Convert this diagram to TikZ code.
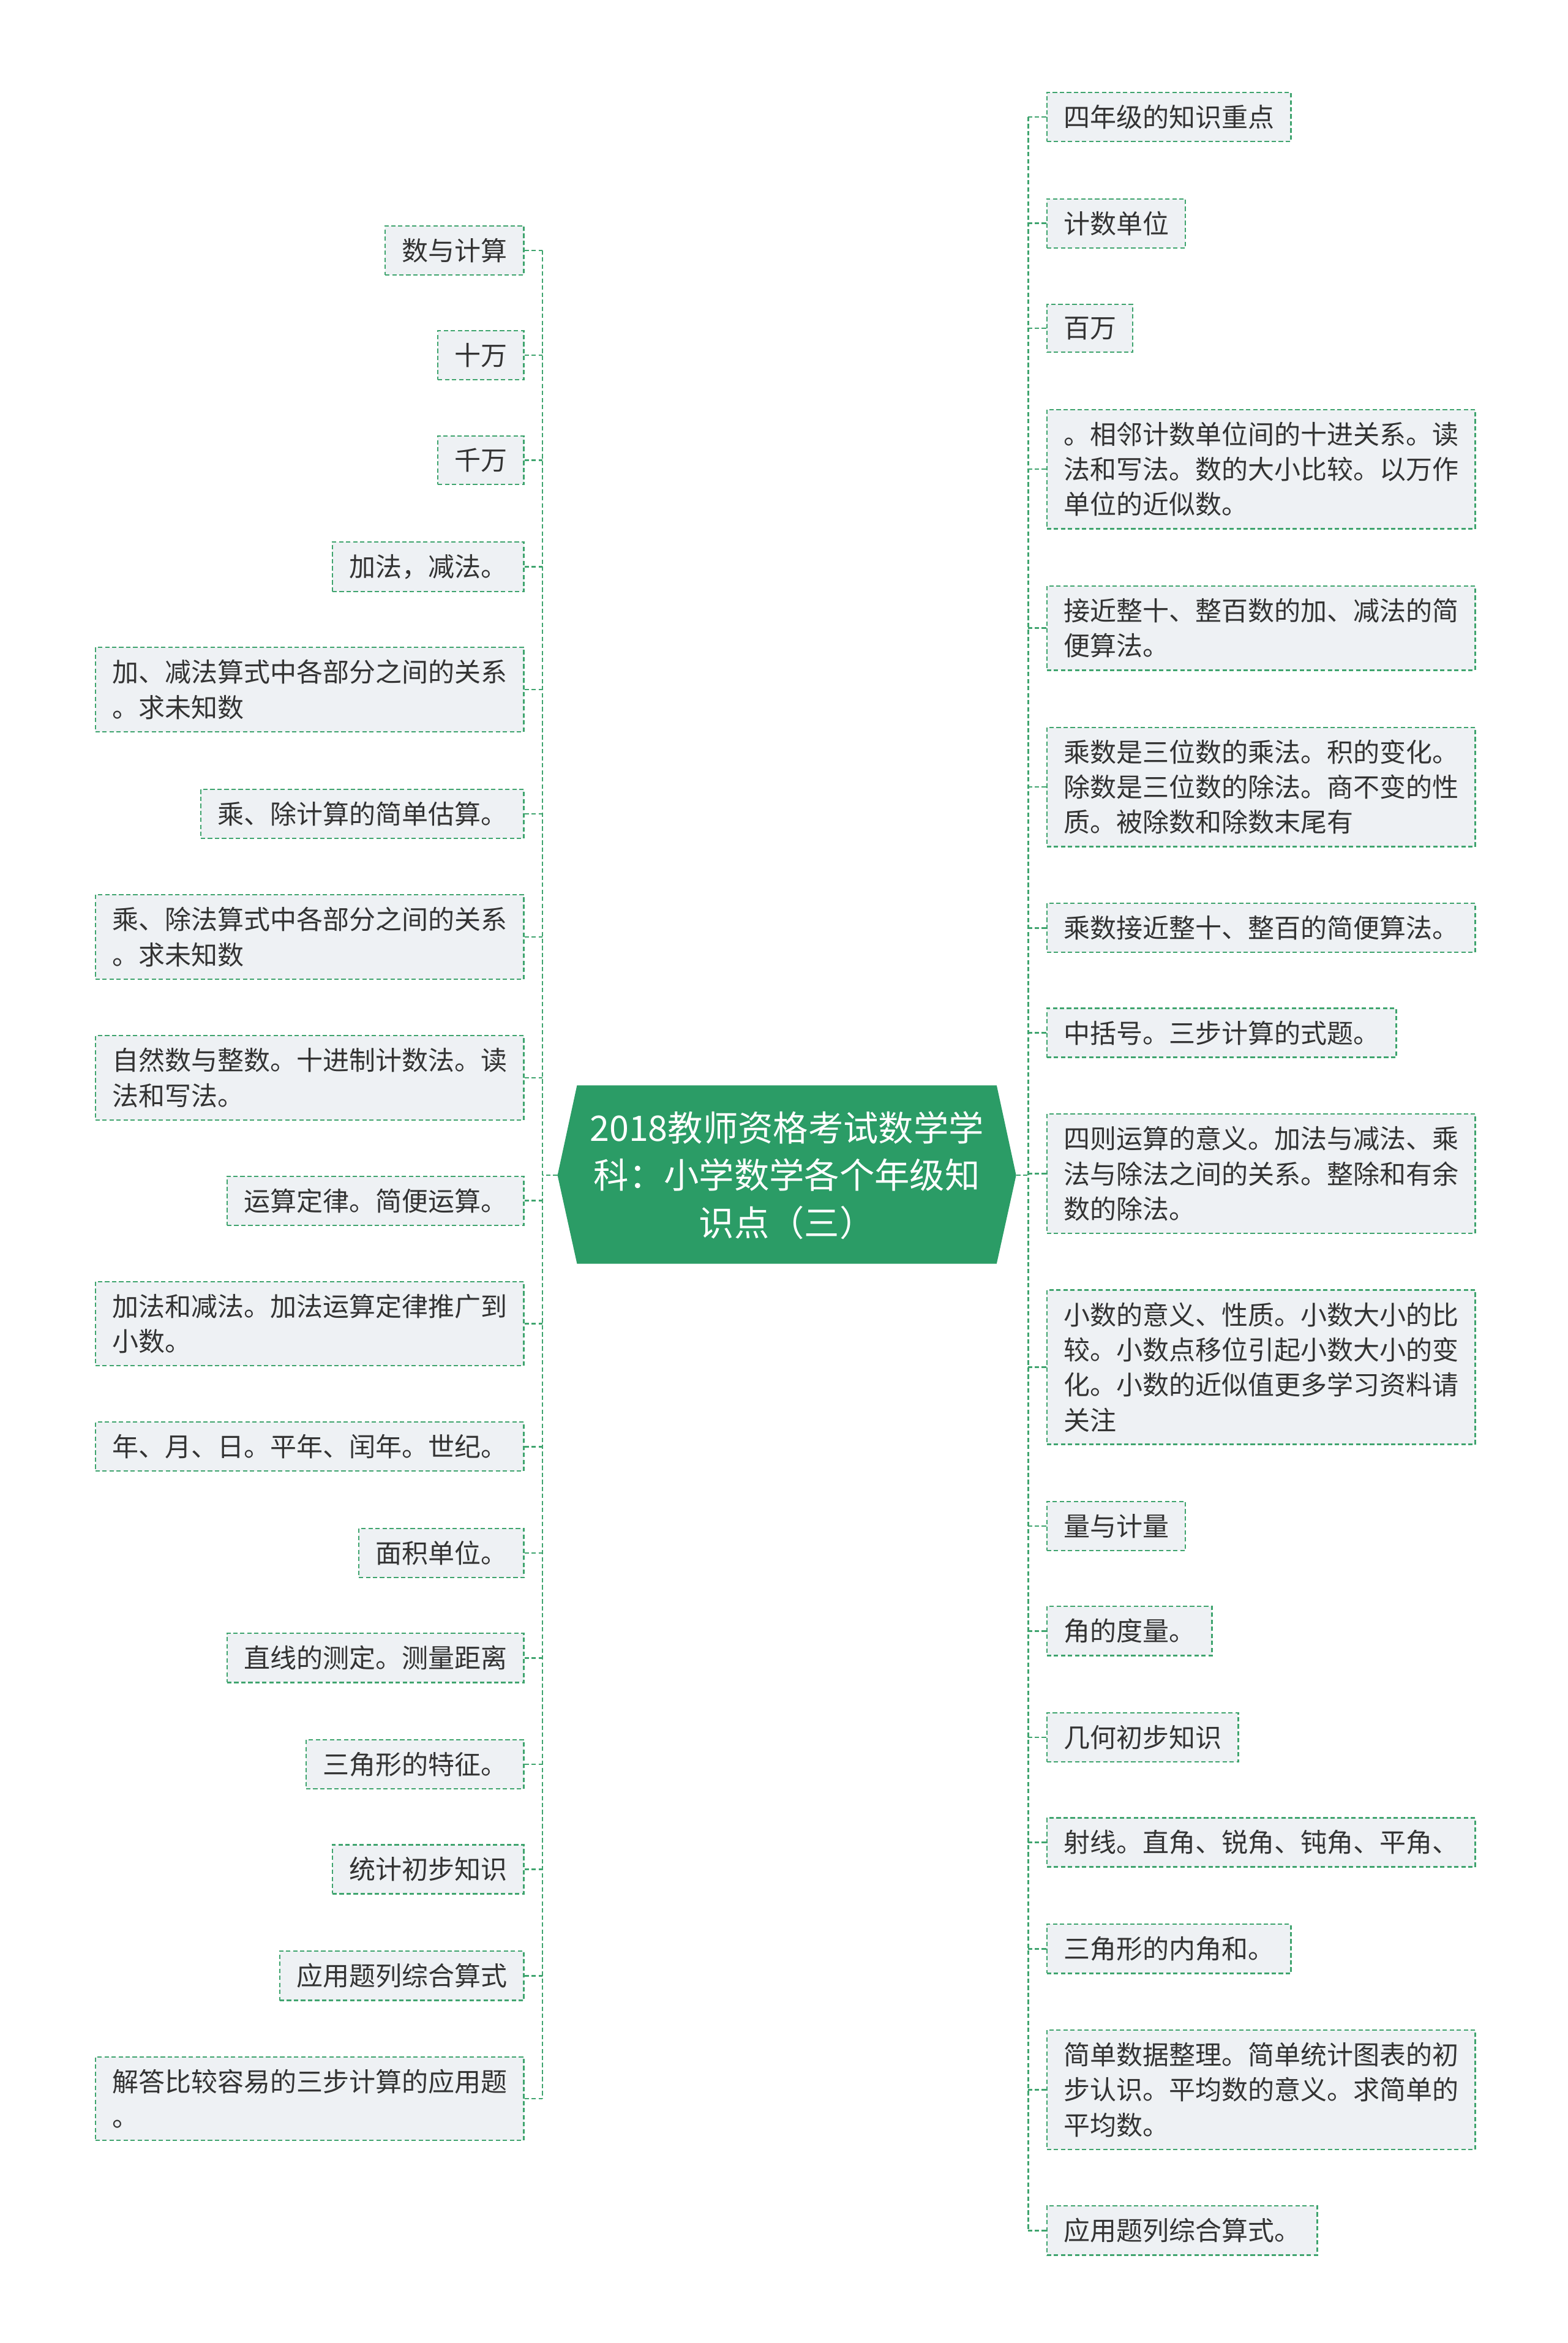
\documentclass[tikz,border=0pt]{standalone}
\usepackage{fontspec}
\setmainfont{Noto Sans CJK SC}
\usetikzlibrary{calc, positioning}
\definecolor{linegreen}{HTML}{3FA46E}
\definecolor{rootgreen}{HTML}{2B9C66}
\definecolor{leafgray}{HTML}{EEF1F4}
\begin{document}
\begin{tikzpicture}[x=0.03cm, y=-0.03cm,
  leaf/.style={draw=linegreen, fill=leafgray, dash pattern=on 2.5pt off 1.5pt, line width=0.8pt,
               inner xsep=9.5pt, inner ysep=7pt, align=left, text=black!80,
               font=\fontsize{15pt}{20pt}\selectfont},
  link/.style={draw=linegreen, dash pattern=on 2.5pt off 1.5pt, line width=0.9pt}]
\useasboundingbox (0,0) rectangle (1046,1563);

% the root
\fill[rootgreen] (385,724) -- (665,724) -- (678,784) -- (665,843) -- (385,843) -- (372,784) -- cycle;
\node[text=white, align=center, font=\fontsize{20pt}{27pt}\selectfont] (root) at (525,784)
  {2018教师资格考试数学学\\科：小学数学各个年级知\\识点（三）};
\coordinate (rootL) at (372,784);
\coordinate (rootR) at (678,784);
\coordinate (busL) at (362,784);
\coordinate (busR) at (686,784);

% left branch
\foreach \i/\y/\t in {1/167/{数与计算}, 2/237/{十万}, 3/307/{千万}, 4/378/{加法，减法。},
                      5/460/{加、减法算式中各部分之间的关系\\。求未知数},
                      6/543/{乘、除计算的简单估算。},
                      7/625/{乘、除法算式中各部分之间的关系\\。求未知数},
                      8/719/{自然数与整数。十进制计数法。读\\法和写法。},
                      9/801/{运算定律。简便运算。},
                      10/883/{加法和减法。加法运算定律推广到\\小数。},
                      11/965/{年、月、日。平年、闰年。世纪。},
                      12/1036/{面积单位。}, 13/1106/{直线的测定。测量距离},
                      14/1177/{三角形的特征。}, 15/1247/{统计初步知识},
                      16/1318/{应用题列综合算式},
                      17/1400/{解答比较容易的三步计算的应用题\\。}} {
    \node[leaf, anchor=east] (l\i) at (350,\y) {\t};
    \draw[link] (l\i.east) -- (l\i.east -| busL);
}
\draw[link] (l1.east -| busL) -- (l17.east -| busL);
\draw[link] (rootL) -- (busL);

% right branch
\foreach \i/\y/\t in {1/78/{四年级的知识重点}, 2/149/{计数单位}, 3/219/{百万},
                      4/313/{。相邻计数单位间的十进关系。读\\法和写法。数的大小比较。以万作\\单位的近似数。},
                      5/419/{接近整十、整百数的加、减法的简\\便算法。},
                      6/525/{乘数是三位数的乘法。积的变化。\\除数是三位数的除法。商不变的性\\质。被除数和除数末尾有},
                      7/619/{乘数接近整十、整百的简便算法。},
                      8/689/{中括号。三步计算的式题。},
                      9/783/{四则运算的意义。加法与减法、乘\\法与除法之间的关系。整除和有余\\数的除法。},
                      10/912/{小数的意义、性质。小数大小的比\\较。小数点移位引起小数大小的变\\化。小数的近似值更多学习资料请\\关注},
                      11/1018/{量与计量}, 12/1088/{角的度量。}, 13/1159/{几何初步知识},
                      14/1229/{射线。直角、锐角、钝角、平角、},
                      15/1300/{三角形的内角和。},
                      16/1394/{简单数据整理。简单统计图表的初\\步认识。平均数的意义。求简单的\\平均数。},
                      17/1488/{应用题列综合算式。}} {
    \node[leaf, anchor=west] (r\i) at (698,\y) {\t};
    \draw[link] (r\i.west) -- (r\i.west -| busR);
}
\draw[link] (r1.west -| busR) -- (r17.west -| busR);
\draw[link] (rootR) -- (busR);
\end{tikzpicture}
\end{document}
